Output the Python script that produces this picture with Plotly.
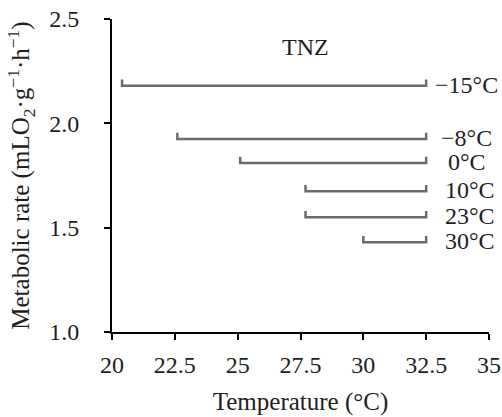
import plotly.graph_objects as go

# Data
labels = ["−15°C", "−8°C", "0°C", "10°C", "23°C", "30°C"]
lower_tnz = [20.4, 22.6, 25.1, 27.7, 27.7, 30.0]
upper_tnz = [32.5, 32.5, 32.5, 32.5, 32.5, 32.5]
rate = [2.18, 1.925, 1.81, 1.675, 1.55, 1.43]

x_ticks = [20, 22.5, 25, 27.5, 30, 32.5, 35]
y_ticks = [1.0, 1.5, 2.0, 2.5]

FONT = "Liberation Serif, Times New Roman, serif"
LINE_COLOR = "#6b6b6b"
TEXT_COLOR = "#1e1e1e"
cap = 0.03  # height of bracket end ticks in y-units (style)
label_shift = [7, 13, 20, 17, 17, 17]

fig = go.Figure()
for lo, hi, r in zip(lower_tnz, upper_tnz, rate):
    fig.add_trace(go.Scatter(
        x=[lo, lo, hi, hi], y=[r + cap, r, r, r + cap],
        mode="lines", line=dict(color=LINE_COLOR, width=2.5),
        showlegend=False, hoverinfo="skip"))

for lab, hi, r, sh in zip(labels, upper_tnz, rate, label_shift):
    fig.add_annotation(x=hi, y=r, text=lab, showarrow=False,
                       xanchor="left", yanchor="middle", xshift=sh, yshift=1,
                       font=dict(family=FONT, size=24, color=TEXT_COLOR))

fig.add_annotation(x=27.7, y=2.365, text="TNZ", showarrow=False,
                   font=dict(family=FONT, size=24, color=TEXT_COLOR))

fig.update_layout(
    width=502, height=417,
    margin=dict(l=112, r=13, t=19, b=85),
    plot_bgcolor="white", paper_bgcolor="white",
    font=dict(family=FONT, size=24, color=TEXT_COLOR),
    xaxis=dict(range=[20, 35], tickvals=x_ticks, ticktext=[f"{v:g}" for v in x_ticks],
               automargin=False,
               showline=True, linecolor="black", linewidth=2,
               ticks="outside", ticklen=6, tickwidth=2, tickcolor="black",
               ticklabelstandoff=4,
               tickfont=dict(family=FONT, size=24, color=TEXT_COLOR),
               showgrid=False, zeroline=False,
               title=dict(text="Temperature (°C)", font=dict(family=FONT, size=25, color=TEXT_COLOR), standoff=16)),
    yaxis=dict(range=[1.0, 2.5], tickvals=y_ticks, ticktext=[f"{v:.1f}" for v in y_ticks],
               automargin=False,
               showline=True, linecolor="black", linewidth=2,
               ticks="outside", ticklen=6, tickwidth=2, tickcolor="black",
               ticklabelstandoff=20,
               tickfont=dict(family=FONT, size=24, color=TEXT_COLOR),
               showgrid=False, zeroline=False,
               title=dict(text="Metabolic rate (mLO<sub>2</sub>·g<sup>−1</sup>·h<sup>−1</sup>)",
                          font=dict(family=FONT, size=25, color=TEXT_COLOR), standoff=12)),
)

fig.write_html("out.html")
